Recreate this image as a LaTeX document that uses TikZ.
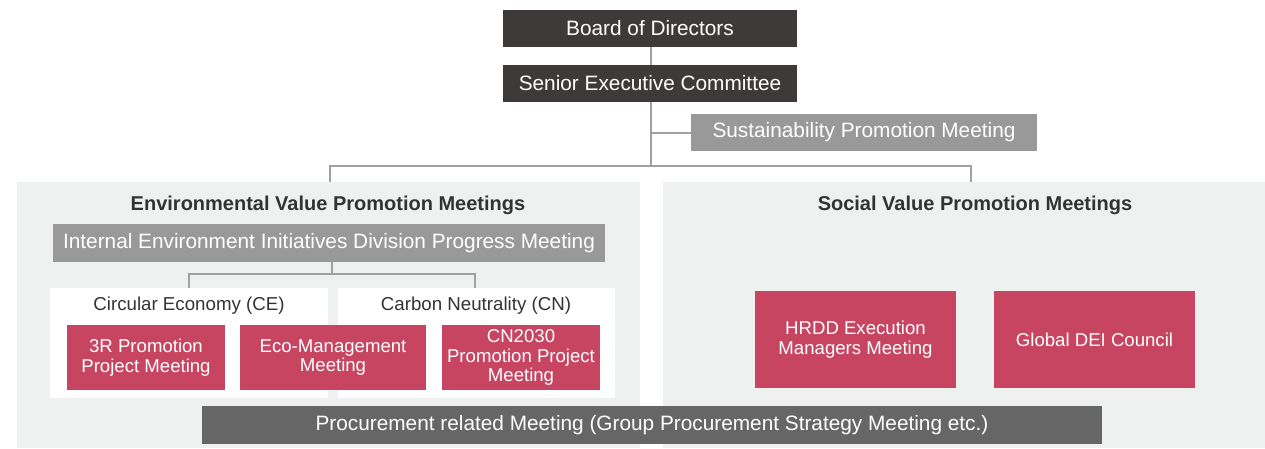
\documentclass[tikz,border=0pt]{standalone}
\usepackage{fontspec}
\setmainfont{Liberation Sans}
\definecolor{cdark}{HTML}{3E3A39}
\definecolor{cgrey}{HTML}{999999}
\definecolor{cred}{HTML}{C84562}
\definecolor{cproc}{HTML}{666666}
\definecolor{cpanel}{HTML}{EFF0F0}
\definecolor{cline}{HTML}{A0A0A0}
\definecolor{ctext}{HTML}{333333}
\tikzset{
  box/.style={inner sep=0pt, align=center, text=white, font=\fontsize{20.8}{22}\selectfont},
  darkbox/.style={box, fill=cdark},
  greybox/.style={box, fill=cgrey},
  redbox/.style={box, fill=cred, font=\fontsize{18.6}{19.6}\selectfont},
  conn/.style={draw=cline, line width=2pt},
  title/.style={text=ctext, font=\bfseries\fontsize{20}{22}\selectfont},
  sublabel/.style={text=ctext, font=\fontsize{18.7}{20}\selectfont},
}
\begin{document}
\begin{tikzpicture}[x=1pt,y=-1pt]
\useasboundingbox (0,0) rectangle (1265,448);
% panels
\fill[cpanel] (17,182) rectangle (640,448);
\fill[cpanel] (663,182) rectangle (1265,448);
\fill[white] (50,288) rectangle (328,398);
\fill[white] (338,288) rectangle (615,398);
% top nodes
\node[darkbox, minimum width=294pt, minimum height=37pt] (board) at (650,28.5) {Board of Directors};
\node[darkbox, minimum width=294pt, minimum height=37pt] (senior) at (650,83.5) {Senior Executive Committee};
\node[greybox, minimum width=346pt, minimum height=37pt] (sust) at (864,132.5) {Sustainability Promotion Meeting};
\coordinate (hub) at (651,166);
\coordinate (hl) at (330,166);
\coordinate (hr) at (971,166);
\coordinate (pl) at (330,182);
\coordinate (pr) at (971,182);
\coordinate (sj) at (651,132.5);
% titles
\node[title] (envt) at (328,205.5) {Environmental Value Promotion Meetings};
\node[title] (soct) at (975,205.5) {Social Value Promotion Meetings};
% env
\node[greybox, minimum width=552pt, minimum height=38pt] (internal) at (329,243) {Internal Environment Initiatives Division Progress Meeting};
\coordinate (ij) at (332,274);
\coordinate (ijl) at (189,274);
\coordinate (ijr) at (475,274);
\coordinate (cet) at (189,288);
\coordinate (cnt) at (475,288);
\node[sublabel] (ce) at (189,306) {Circular Economy (CE)};
\node[sublabel] (cn) at (476,306) {Carbon Neutrality (CN)};
\node[redbox, minimum width=158pt, minimum height=65pt] (r3) at (146,357.5) {3R Promotion\\Project Meeting};
\node[redbox, minimum width=186pt, minimum height=65pt] (eco) at (333,357.5) {Eco-Management\\Meeting};
\node[redbox, minimum width=158pt, minimum height=65pt] (cn30) at (521,357.5) {CN2030\\Promotion Project\\Meeting};
% social
\node[redbox, minimum width=201pt, minimum height=97pt] (hrdd) at (855.5,339.5) {HRDD Execution\\Managers Meeting};
\node[redbox, minimum width=201pt, minimum height=97pt] (dei) at (1094.5,339.5) {Global DEI Council};
% procurement
\node[box, fill=cproc, minimum width=900pt, minimum height=38pt] (proc) at (652,425) {Procurement related Meeting (Group Procurement Strategy Meeting etc.)};
% connectors
\draw[conn] (board.south -| hub) -- (senior.north -| hub);
\draw[conn] (senior.south -| hub) -- (hub);
\draw[conn] (sj) -- (sust.west);
\draw[conn] (pl) -- (hl) -- (hr) -- (pr);
\draw[conn] (internal.south -| ij) -- (ij);
\draw[conn] (cet) -- (ijl) -- (ijr) -- (cnt);
\end{tikzpicture}
\end{document}
